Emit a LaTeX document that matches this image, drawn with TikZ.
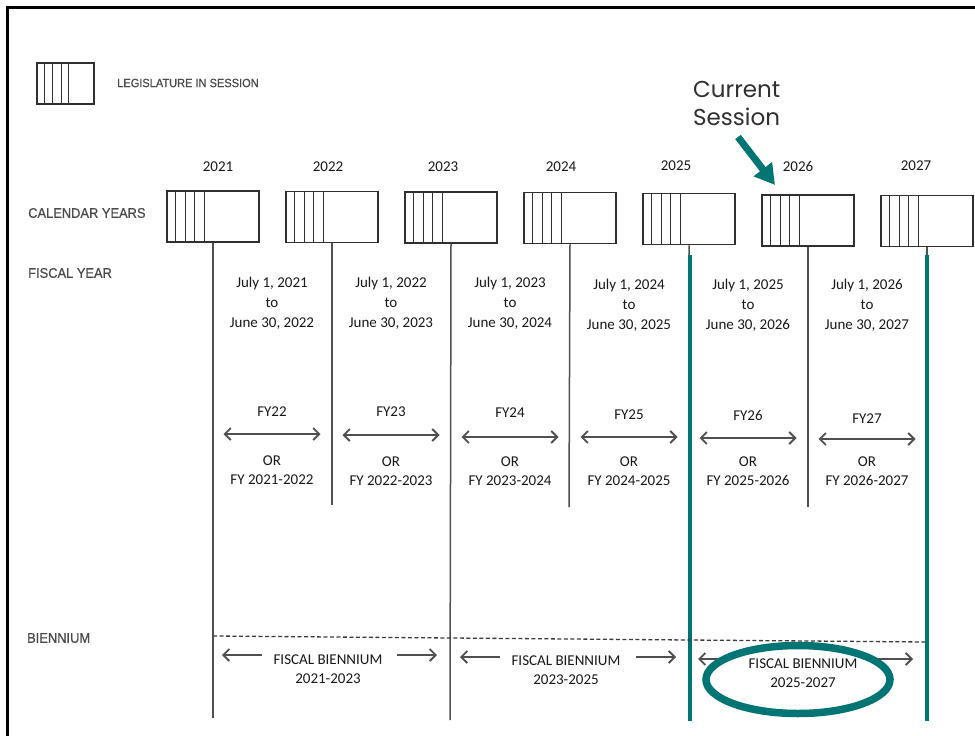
\documentclass[tikz,border=0pt]{standalone}
\usepackage{fontspec}
\setmainfont{Carlito}
\newfontfamily\lblfont[FakeStretch=0.92,FakeBold=0.6]{Liberation Sans}
\newfontfamily\popfont{Poppins}
\usetikzlibrary{arrows.meta,calc,shapes.geometric}
\definecolor{tealc}{RGB}{0,117,116}
\definecolor{inkc}{RGB}{25,25,25}
\definecolor{linec}{RGB}{80,80,80}
\definecolor{lblc}{RGB}{75,75,75}
\begin{document}
\begin{tikzpicture}[x=1pt,y=-1pt,
  calbox/.style={draw=inkc!90, line width=1.5pt, minimum width=92pt, minimum height=51pt, inner sep=0pt},
  legbox/.style={draw=inkc!90, line width=1.4pt, minimum width=57pt, minimum height=41pt, inner sep=0pt},
  stripe/.style={draw=inkc!90, line width=1.4pt},
  yearlbl/.style={font=\fontsize{15}{18}\selectfont, text=inkc, inner sep=0pt},
  bodytxt/.style={font=\fontsize{15}{20}\selectfont, text=inkc, align=center, inner sep=0pt},
  ortxt/.style={font=\fontsize{15}{19}\selectfont, text=inkc, align=center, inner sep=0pt},
  sidelbl/.style={font=\lblfont\fontsize{14}{16}\selectfont, text=lblc, anchor=west, inner sep=0pt},
  vline/.style={draw=linec, line width=1.5pt},
  tline/.style={draw=tealc, line width=4pt},
  fyarrow/.style={draw=linec, line width=1.8pt, {Straight Barb[length=6pt,width=12pt]}-{Straight Barb[length=6pt,width=12pt]}},
  biarrow/.style={draw=linec, line width=1.8pt, -{Straight Barb[length=6pt,width=12pt]}},
  curtxt/.style={font=\popfont\fontsize{23}{28}\selectfont, text=inkc!90, anchor=base west, inner sep=0pt}
]
\useasboundingbox (0,0) rectangle (975,736);
\fill[white] (0,0) rectangle (975,736);
% frame
\draw[black, line width=3pt] (7.5,736) -- (7.5,7.5) -- (975,7.5);

% legend
\node[legbox] (leg) at (65.5,83.5) {};
\foreach \s in {8,16,25,32}
  \draw[stripe] ([xshift=\s pt]leg.north west) -- ([xshift=\s pt]leg.south west);
\node[font=\lblfont\fontsize{12}{14}\selectfont, text=lblc, anchor=west, inner sep=0pt] (legtxt) at (117,83) {LEGISLATURE IN SESSION};

% side labels
\node[sidelbl] (lcal) at (28,213) {CALENDAR YEARS};
\node[sidelbl] (lfis) at (28,273) {FISCAL YEAR};
\node[sidelbl] (lbie) at (27,638) {BIENNIUM};

% calendar boxes
\foreach \yr/\cx/\cy/\lx/\ly in {2021/213/216.5/218/167, 2022/332/217/328/167, 2023/451/217.5/443/167,
    2024/570/218/561/167, 2025/689/219/676/166, 2026/808/220.5/798/166, 2027/927/221/916/166}{
  \node[yearlbl] (y\yr) at (\lx,\ly) {\yr};
  \node[calbox] (c\yr) at (\cx,\cy) {};
  \foreach \s in {9.5,19,28.5,38}
    \draw[stripe] ([xshift=\s pt]c\yr.north west) -- ([xshift=\s pt]c\yr.south west);
}

% vertical lines
\coordinate (e2021) at (213,718);
\coordinate (e2022) at (332,505);
\coordinate (e2023) at (450,720);
\coordinate (e2024) at (569,507);
\coordinate (e2025) at (690,721);
\coordinate (e2026) at (808,507);
\coordinate (e2027) at (927,721);
\coordinate (t2025) at (690,255);
\coordinate (t2027) at (927,255);
\foreach \yr in {2021,2022,2023,2024,2025,2026,2027}
  \draw[vline] (c\yr.south) -- (e\yr);
\draw[tline] (t2025) -- (e2025);
\draw[tline] (t2027) -- (e2027);

% fiscal year columns
\foreach \i/\cx/\dy/\fy/\ay/\oy/\a/\b in {
   1/272/303/412/434/470.5/2021/2022,
   2/391/303/412/435/471/2022/2023,
   3/510/303/413/437/471.5/2023/2024,
   4/629/305/415/437/471.5/2024/2025,
   5/748/305/415/438/471.5/2025/2026,
   6/867/305/419/439/471.5/2026/2027}{
  \pgfmathtruncatemacro{\short}{\b-2000}
  \node[bodytxt] (d\i) at (\cx,\dy) {July 1, \a\\to\\June 30, \b};
  \node[bodytxt] (f\i) at (\cx,\fy) {FY\short};
  \coordinate (al\i) at ({\cx-48.5},\ay);
  \coordinate (ar\i) at ({\cx+48.5},\ay);
  \draw[fyarrow] (al\i) -- (ar\i);
  \node[ortxt] (o\i) at (\cx,\oy) {OR\\FY \a-\b};
}

% biennium dashed line
\coordinate (dA) at (213,636);
\coordinate (dB) at (927,642);
\draw[draw=inkc!85, line width=1.3pt, dash pattern=on 4pt off 2.5pt] (dA) -- (dB);

% biennium arrows
\foreach \i/\l/\r/\ay in {1/222/437/655, 2/460/676/657, 3/698/913/659}{
  \coordinate (bl\i) at (\l,\ay);
  \coordinate (blt\i) at ({\l+40},\ay);
  \coordinate (br\i) at (\r,\ay);
  \coordinate (brt\i) at ({\r-40},\ay);
  \draw[biarrow] (blt\i) -- (bl\i);
  \draw[biarrow] (brt\i) -- (br\i);
}

% highlight ellipse
\node[ellipse, draw=tealc, line width=7.5pt, fill=white, minimum width=184pt, minimum height=68pt, inner sep=0pt] (ring) at (798,679.5) {};

\node[ortxt] (bt1) at (328,669.5) {FISCAL BIENNIUM\\2021-2023};
\node[ortxt] (bt2) at (566,670.5) {FISCAL BIENNIUM\\2023-2025};
\node[ortxt] (bt3) at (803,673) {FISCAL BIENNIUM\\2025-2027};

% current session
\node[curtxt] (cur1) at (693,97) {Current};
\node[curtxt] (cur2) at (693,125) {Session};
\coordinate (ta) at (738,137);
\coordinate (tb) at (775,185);
\draw[tealc, line width=7pt, -{Triangle[length=20pt,width=22pt]}] (ta) -- (tb);
\end{tikzpicture}
\end{document}
